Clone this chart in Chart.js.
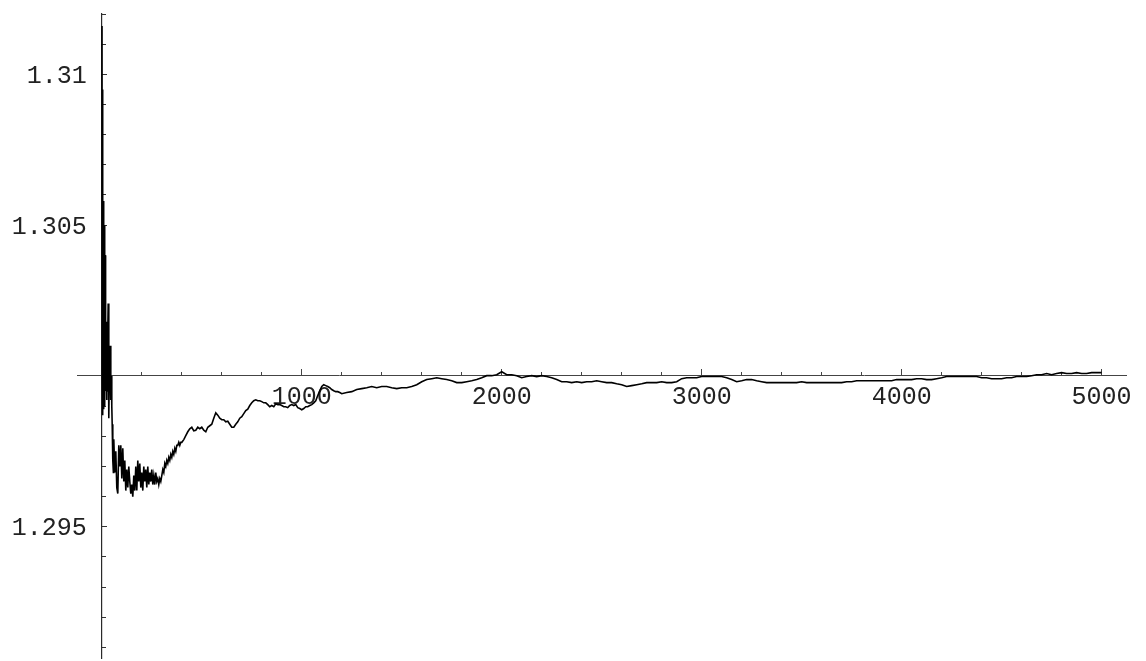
<!DOCTYPE html>
<html>
<head>
<meta charset="utf-8">
<script src="https://cdn.jsdelivr.net/npm/chart.js@4.4.1/dist/chart.umd.min.js"></script>
<style>
    html, body { margin: 0; padding: 0; background: #ffffff; }
    #box { width: 1146px; height: 661px; }
</style>
</head>
<body>
<div id="box"><canvas id="chart_media"></canvas></div>
<script>
// n = 1..20, passo 1
const inicioN = [1.3116, 1.3002, 1.3095, 1.2988, 1.3070, 1.2987, 1.3058, 1.2990, 1.3052, 1.2989,
    1.3049, 1.2992, 1.3050, 1.2994, 1.3046, 1.2990, 1.3040, 1.2995, 1.3035, 1.2998];

// n = 22..58, passo 2
const oscilacao = [1.3018, 1.2992, 1.3008, 1.2995, 1.3015, 1.3024, 1.2990, 1.2986, 1.3002, 1.3005,
    1.3010, 1.2992, 1.2995, 1.3000, 1.2990, 1.2984, 1.2979, 1.2972, 1.2968];

// n = 60..400, passo 5
const vale = [1.2979, 1.2968, 1.2975, 1.2963, 1.2961, 1.2977, 1.2970, 1.2977, 1.2966, 1.2976,
    1.2965, 1.2972, 1.2962, 1.2969, 1.2963, 1.2970, 1.2965, 1.2961, 1.2964, 1.2960,
    1.2967, 1.2962, 1.2970, 1.2962, 1.2972, 1.2965, 1.2971, 1.2963, 1.2968, 1.2962,
    1.2970, 1.2965, 1.2969, 1.2963, 1.2970, 1.2964, 1.2968, 1.2965, 1.2969, 1.2964,
    1.2967, 1.2964, 1.2968, 1.2965, 1.2966, 1.2964, 1.2966, 1.2965, 1.2967, 1.2969,
    1.2968, 1.2971, 1.2970, 1.2972, 1.2971, 1.2973, 1.2972, 1.2974, 1.2973, 1.2975,
    1.2974, 1.2976, 1.2975, 1.2977, 1.2977, 1.2978, 1.2977, 1.2978, 1.2978];

// n = 410..1190, passo 10
const subida = [1.29789, 1.29802, 1.29815, 1.29825, 1.29830, 1.29818, 1.29820, 1.29830, 1.29825, 1.29830,
    1.29820, 1.29815, 1.29830, 1.29835, 1.29840, 1.29860, 1.29878, 1.29870, 1.29860, 1.29855,
    1.29855, 1.29848, 1.29850, 1.29840, 1.29830, 1.29830, 1.29840, 1.29848, 1.29860, 1.29865,
    1.29875, 1.29885, 1.29890, 1.29902, 1.29911, 1.29918, 1.29921, 1.29918, 1.29918, 1.29915,
    1.29911, 1.29911, 1.29905, 1.29898, 1.29902, 1.29898, 1.29908, 1.29905, 1.29905, 1.29902,
    1.29898, 1.29898, 1.29895, 1.29902, 1.29905, 1.29902, 1.29905, 1.29895, 1.29892, 1.29888,
    1.29892, 1.29898, 1.29898, 1.29902, 1.29905, 1.29911, 1.29918, 1.29935, 1.29951, 1.29965,
    1.29971, 1.29968, 1.29965, 1.29961, 1.29955, 1.29951, 1.29948, 1.29948, 1.29945];

// n = 1200..5000, passo 25
const estavel = [1.29941, 1.29945, 1.29948, 1.29955, 1.29958, 1.29961, 1.29965, 1.29961, 1.29965, 1.29965,
    1.29961, 1.29958, 1.29961, 1.29961, 1.29965, 1.29971, 1.29981, 1.29988, 1.29991, 1.29994,
    1.29991, 1.29988, 1.29984, 1.29978, 1.29978, 1.29981, 1.29984, 1.29988, 1.29994, 1.30001,
    1.30001, 1.30004, 1.30014, 1.30004, 1.30004, 1.30001, 1.29994, 1.29998, 1.30001, 1.29998,
    1.30001, 1.29998, 1.29994, 1.29988, 1.29981, 1.29981, 1.29978, 1.29981, 1.29978, 1.29981,
    1.29981, 1.29984, 1.29981, 1.29978, 1.29978, 1.29974, 1.29971, 1.29965, 1.29968, 1.29971,
    1.29974, 1.29978, 1.29978, 1.29978, 1.29981, 1.29978, 1.29978, 1.29981, 1.29991, 1.29994,
    1.29994, 1.29994, 1.29998, 1.29998, 1.29998, 1.29998, 1.29998, 1.29994, 1.29988, 1.29981,
    1.29984, 1.29988, 1.29988, 1.29984, 1.29981, 1.29978, 1.29978, 1.29978, 1.29978, 1.29978,
    1.29978, 1.29978, 1.29981, 1.29978, 1.29978, 1.29978, 1.29978, 1.29978, 1.29978, 1.29978,
    1.29978, 1.29981, 1.29981, 1.29984, 1.29984, 1.29984, 1.29984, 1.29984, 1.29984, 1.29984,
    1.29984, 1.29988, 1.29988, 1.29988, 1.29988, 1.29991, 1.29991, 1.29988, 1.29988, 1.29991,
    1.29994, 1.29998, 1.29998, 1.29998, 1.29998, 1.29998, 1.29998, 1.29998, 1.29994, 1.29994,
    1.29991, 1.29991, 1.29991, 1.29994, 1.29994, 1.29998, 1.29998, 1.29998, 1.30001, 1.30004,
    1.30004, 1.30008, 1.30004, 1.30008, 1.30011, 1.30008, 1.30008, 1.30011, 1.30008, 1.30008,
    1.30011, 1.30011, 1.30011];

// trechos: [primeiro n, passo, valores]
const trechos = [
    [1, 1, inicioN],
    [22, 2, oscilacao],
    [60, 5, vale],
    [410, 10, subida],
    [1200, 25, estavel]
];

const marcasX = [0, 1000, 2000, 3000, 4000, 5000];
const rotulosX = [1000, 2000, 3000, 4000, 5000];
const rotulosY = [1.295, 1.305, 1.31];

const pontos = [];
trechos.forEach(([n0, passo, vals]) => {
    vals.forEach((v, i) => pontos.push({ x: n0 + i * passo, y: v }));
});

const fonteEixo = { family: "'Liberation Mono', 'DejaVu Sans Mono', monospace", size: 25 };
const limX = { min: -124, max: 5122 };
const limY = { min: 1.29065, max: 1.312 };

const ctx = document.getElementById('chart_media');

new Chart(ctx, {
    type: 'line',
    data: {
        datasets: [{
            data: pontos,
            borderColor: '#000000',
            borderWidth: 1.6,
            pointRadius: 0,
            tension: 0,
            fill: false
        }]
    },
    options: {
        responsive: true,
        maintainAspectRatio: false,
        animation: false,
        events: [],
        layout: {
            padding: { left: 77, right: 20, top: 14, bottom: 3 }
        },
        scales: {
            x: { // eixo horizontal, marcas grandes a cada 1000
                type: 'linear',
                axis: 'x',
                min: limX.min,
                max: limX.max,
                position: { y: 1.3 },
                afterBuildTicks: (scale) => {
                    scale.ticks = marcasX.map(v => ({ value: v }));
                },
                border: { display: true, color: '#444444', width: 1 },
                grid: { drawOnChartArea: false, drawTicks: true, tickLength: -7, tickColor: '#444444', tickWidth: 1 },
                ticks: {
                    autoSkip: false,
                    maxRotation: 0,
                    padding: 13,
                    color: '#222222',
                    font: fonteEixo,
                    callback: (v) => rotulosX.includes(v) ? String(v) : ''
                }
            },
            xm: { // marcas pequenas a cada 200
                type: 'linear',
                axis: 'x',
                min: limX.min,
                max: limX.max,
                position: { y: 1.3 },
                border: { display: false },
                grid: { drawOnChartArea: false, drawTicks: true, tickLength: -4, tickColor: '#444444', tickWidth: 1 },
                ticks: { stepSize: 200, includeBounds: false, autoSkip: false, display: false }
            },
            y: { // eixo vertical, marcas grandes a cada 0.005
                type: 'linear',
                axis: 'y',
                min: limY.min,
                max: limY.max,
                position: { x: 0 },
                border: { display: true, color: '#2a2a2a', width: 1.2 },
                grid: { drawOnChartArea: false, drawTicks: true, tickLength: -6, tickColor: '#333333', tickWidth: 1 },
                ticks: {
                    stepSize: 0.005,
                    includeBounds: false,
                    autoSkip: false,
                    padding: -13,
                    labelOffset: 2,
                    color: '#222222',
                    font: fonteEixo,
                    callback: (v) => {
                        const r = rotulosY.find(t => Math.abs(t - v) < 1e-7);
                        return r === undefined ? '' : String(r) + ' ';
                    }
                }
            },
            ym: { // marcas pequenas a cada 0.001
                type: 'linear',
                axis: 'y',
                min: limY.min,
                max: limY.max,
                position: { x: 0 },
                border: { display: false },
                grid: { drawOnChartArea: false, drawTicks: true, tickLength: -4, tickColor: '#333333', tickWidth: 1 },
                ticks: { stepSize: 0.001, includeBounds: false, autoSkip: false, display: false }
            }
        },
        plugins: {
            legend: { display: false },
            title: { display: false },
            tooltip: { enabled: false }
        }
    }
});
</script>
</body>
</html>
